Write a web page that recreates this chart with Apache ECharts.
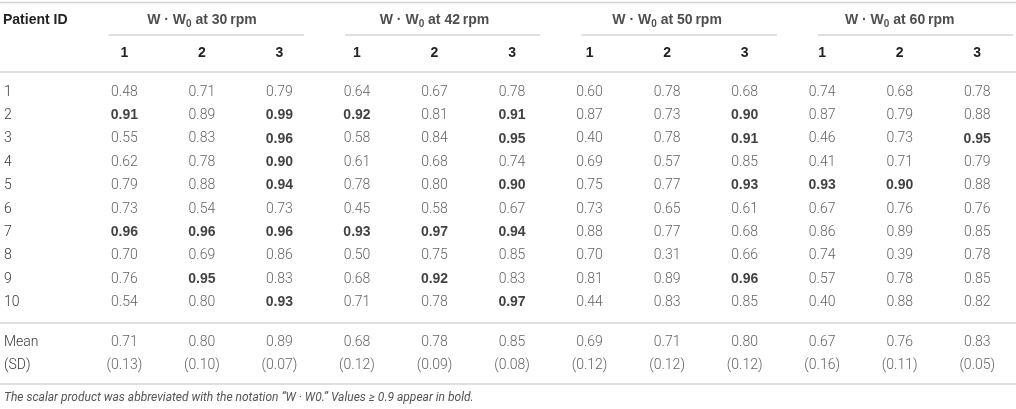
<!DOCTYPE html>
<html>
<head>
<meta charset="utf-8">
<script src="https://cdn.jsdelivr.net/npm/echarts@6/dist/echarts.min.js"></script>
<style>
  html, body { margin: 0; padding: 0; background: #fff; }
  #table { width: 1016px; height: 409px; }
</style>
</head>
<body>
<div id="table"></div>
<script>
var rpmGroups = ['30', '42', '50', '60'];
var trials = ['1', '2', '3'];
var patients = ['1', '2', '3', '4', '5', '6', '7', '8', '9', '10'];
var summaryRows = ['Mean', '(SD)'];

// one row per patient, three trials per speed
var rpm30 = [[0.48, 0.71, 0.79], [0.91, 0.89, 0.99], [0.55, 0.83, 0.96], [0.62, 0.78, 0.90], [0.79, 0.88, 0.94],
             [0.73, 0.54, 0.73], [0.96, 0.96, 0.96], [0.70, 0.69, 0.86], [0.76, 0.95, 0.83], [0.54, 0.80, 0.93]];
var rpm42 = [[0.64, 0.67, 0.78], [0.92, 0.81, 0.91], [0.58, 0.84, 0.95], [0.61, 0.68, 0.74], [0.78, 0.80, 0.90],
             [0.45, 0.58, 0.67], [0.93, 0.97, 0.94], [0.50, 0.75, 0.85], [0.68, 0.92, 0.83], [0.71, 0.78, 0.97]];
var rpm50 = [[0.60, 0.78, 0.68], [0.87, 0.73, 0.90], [0.40, 0.78, 0.91], [0.69, 0.57, 0.85], [0.75, 0.77, 0.93],
             [0.73, 0.65, 0.61], [0.88, 0.77, 0.68], [0.70, 0.31, 0.66], [0.81, 0.89, 0.96], [0.44, 0.83, 0.85]];
var rpm60 = [[0.74, 0.68, 0.78], [0.87, 0.79, 0.88], [0.46, 0.73, 0.95], [0.41, 0.71, 0.79], [0.93, 0.90, 0.88],
             [0.67, 0.76, 0.76], [0.86, 0.89, 0.85], [0.74, 0.39, 0.78], [0.57, 0.78, 0.85], [0.40, 0.88, 0.82]];
var means = [0.71, 0.80, 0.89, 0.68, 0.78, 0.85, 0.69, 0.71, 0.80, 0.67, 0.76, 0.83];
var sds = [0.13, 0.10, 0.07, 0.12, 0.09, 0.08, 0.12, 0.12, 0.12, 0.16, 0.11, 0.05];
var footnote = 'The scalar product was abbreviated with the notation \u201cW \u00b7 W0.\u201d Values \u2265 0.9 appear in bold.';

var allGroups = [rpm30, rpm42, rpm50, rpm60];
var columns = [];
rpmGroups.forEach(function(g) {
	trials.forEach(function(t) { columns.push(g + '-' + t); });
});

var FONT = 'Roboto';
var BOLD_FONT = 'Liberation Sans';
var GRAY = '#3a3a3a';
var left = 85.6, width = 945.6;
var band = width / 12;

var cells = [];
allGroups.forEach(function(rows, g) {
	rows.forEach(function(row, r) {
		row.forEach(function(v, t) {
			var item = { value: [g * 3 + t, r, v] };
			if (v >= 0.9) item.label = { fontWeight: 'bold', color: '#111', fontFamily: BOLD_FONT };
			cells.push(item);
		});
	});
});
var summary = [];
means.forEach(function(v, c) { summary.push([c, 0, v]); });
sds.forEach(function(v, c) { summary.push([c, 1, v]); });

var hidden = { axisLine: { show: false }, axisTick: { show: false }, splitLine: { show: false } };
function cat(extra) { return Object.assign({ type: 'category' }, hidden, extra); }

var ruleStyle = { stroke: '#d4d4d4', lineWidth: 1.5 };
var rules = [2.5, 72, 323, 384].map(function(y) {
	return { type: 'line', shape: { x1: 0, y1: y, x2: 1016, y2: y }, style: ruleStyle };
});
rpmGroups.forEach(function(g, i) {
	rules.push({ type: 'line',
		shape: { x1: left + 3 * i * band + 23, y1: 35, x2: left + (3 * i + 3) * band - 18, y2: 35 },
		style: ruleStyle });
});

var option = {
	animation: false,
	textStyle: { fontFamily: FONT },
	title: {
		text: footnote, left: 4, top: 392, padding: 0,
		textStyle: { fontFamily: FONT, fontSize: 12, fontStyle: 'italic', fontWeight: 'normal', color: '#555' }
	},
	graphic: rules,
	grid: [
		{ left: left, width: width, top: 3.5, height: 33 },
		{ left: left, width: width, top: 80.3, height: 234 },
		{ left: left, width: width, top: 330.3, height: 46.8 }
	],
	xAxis: [
		cat({ gridIndex: 0, data: rpmGroups, axisLabel: { show: false } }),
		cat({ gridIndex: 1, data: columns, position: 'top',
			axisLabel: { margin: 20, fontSize: 14, fontWeight: 'bold', color: '#222', fontFamily: BOLD_FONT,
				formatter: function(v) { return v.split('-')[1]; } } }),
		cat({ gridIndex: 2, data: columns, axisLabel: { show: false } })
	],
	yAxis: [
		cat({ gridIndex: 0, data: ['Patient ID'], inverse: true,
			axisLabel: { align: 'left', margin: left - 3, fontSize: 14, fontWeight: 'bold', color: '#222', fontFamily: BOLD_FONT } }),
		cat({ gridIndex: 1, data: patients, inverse: true,
			axisLabel: { align: 'left', margin: left - 4, fontSize: 14, fontWeight: 300, color: GRAY, fontFamily: FONT } }),
		cat({ gridIndex: 2, data: summaryRows, inverse: true,
			axisLabel: { align: 'left', margin: left - 4, fontSize: 14, fontWeight: 300, color: GRAY, fontFamily: FONT } })
	],
	series: [
		{
			type: 'scatter', xAxisIndex: 0, yAxisIndex: 0, symbolSize: 0,
			data: rpmGroups.map(function(g, i) { return [i, 0]; }),
			label: {
				show: true, position: 'inside',
				formatter: function(p) {
					return '{b|W \u00b7 W}{s|0}{b| at ' + rpmGroups[p.dataIndex] + '\u2009rpm}';
				},
				rich: {
					b: { fontSize: 14, fontWeight: 'bold', color: '#222', fontFamily: BOLD_FONT, lineHeight: 19 },
					s: { fontSize: 10, fontWeight: 'bold', color: '#222', fontFamily: BOLD_FONT, lineHeight: 11, verticalAlign: 'bottom' }
				}
			}
		},
		{
			type: 'scatter', xAxisIndex: 1, yAxisIndex: 1, symbolSize: 0,
			data: cells,
			label: {
				show: true, position: 'inside', fontSize: 14, fontWeight: 300, color: GRAY, fontFamily: FONT,
				formatter: function(p) { return p.value[2].toFixed(2); }
			}
		},
		{
			type: 'scatter', xAxisIndex: 2, yAxisIndex: 2, symbolSize: 0,
			data: summary,
			label: {
				show: true, position: 'inside', fontSize: 14, fontWeight: 300, color: GRAY, fontFamily: FONT,
				formatter: function(p) {
					var s = p.value[2].toFixed(2);
					return p.value[1] === 1 ? '(' + s + ')' : s;
				}
			}
		}
	]
};

var chart = echarts.init(document.getElementById('table'));
chart.setOption(option);
</script>
</body>
</html>
